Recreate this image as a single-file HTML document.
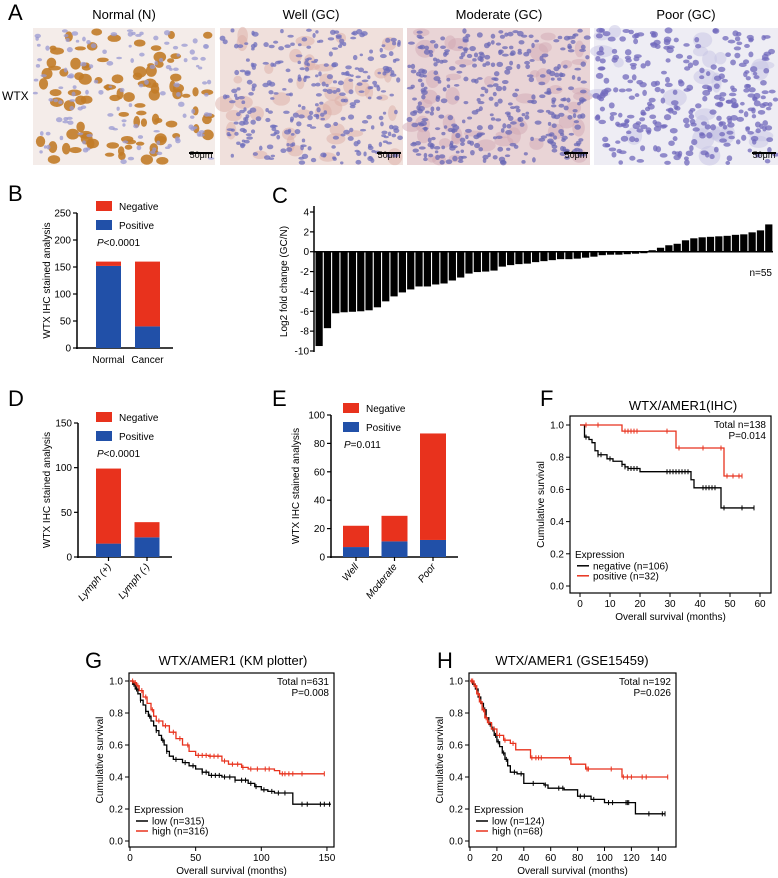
<!DOCTYPE html>
<html><head><meta charset="utf-8"><style>
html,body{margin:0;padding:0;background:#fff}
svg{display:block;font-family:"Liberation Sans",Arial,sans-serif}
</style></head><body>
<svg id="fig" width="778" height="878" viewBox="0 0 778 878" xmlns="http://www.w3.org/2000/svg">
<g id="panelA">
<text x="8" y="20" font-size="22">A</text>
<text x="124" y="19" font-size="13" text-anchor="middle">Normal (N)</text>
<text x="311" y="19" font-size="13" text-anchor="middle">Well (GC)</text>
<text x="499" y="19" font-size="13" text-anchor="middle">Moderate (GC)</text>
<text x="686" y="19" font-size="13" text-anchor="middle">Poor (GC)</text>
<text x="2" y="100" font-size="12">WTX</text>
</g>
<g id="gB"></g>
<g id="gC"></g>
<g id="gD"></g>
<g id="gE"></g>
<g id="gF"></g>
<g id="gG"></g>
<g id="gH"></g>
</svg>
<script>
// ---------- data ----------
const bCategories = ["Normal", "Cancer"];
const bPositive = [152, 40];
const bNegative = [8, 120];
const dCategories = ["Lymph (+)", "Lymph (-)"];
const dPositive = [15, 22];
const dNegative = [84, 17];
const eCategories = ["Well", "Moderate", "Poor"];
const ePositive = [7, 11, 12];
const eNegative = [15, 18, 75];
const cValues = [-9.5,-7.7,-6.2,-6.1,-6.05,-6.0,-5.9,-5.6,-5.0,-4.5,-4.1,-3.8,-3.5,-3.5,-3.3,-3.2,-2.9,-2.6,-2.2,-2.05,-2.0,-1.9,-1.5,-1.35,-1.25,-1.2,-1.05,-0.95,-0.85,-0.75,-0.75,-0.7,-0.6,-0.5,-0.35,-0.3,-0.3,-0.25,-0.2,-0.15,0.15,0.4,0.65,0.8,1.15,1.35,1.45,1.5,1.55,1.6,1.7,1.75,1.95,2.15,2.75];
const cTicks = [4,2,0,-2,-4,-6,-8,-10];
const fNegTimes = [0,1.5,3,4,5,6,9,11,14,15,16,20,37,38,47,58];
const fNegSurv  = [1,0.925,0.91,0.89,0.84,0.815,0.79,0.775,0.755,0.74,0.73,0.71,0.66,0.61,0.485,0.485];
const fNegCens  = [2,6,7,10,14,15,16,17,18,19,29,30,31,32,33,34,35,36,41,42,43,44,45,48,54,58];
const fPosTimes = [0,14,32,48,54];
const fPosSurv  = [1,0.962,0.857,0.683,0.683];
const fPosCens  = [2,6,15,16,17,18,19,29,33,41,47,49,51,53,54];
const gLowTimes = [0,2,4,6,8,10,12,14,16,18,20,22,24,26,28,30,33,40,45,50,55,60,70,80,90,95,100,105,110,124,153];
const gLowSurv  = [1,0.98,0.95,0.92,0.88,0.85,0.81,0.78,0.75,0.72,0.69,0.66,0.63,0.6,0.56,0.53,0.51,0.49,0.47,0.45,0.43,0.41,0.4,0.38,0.36,0.34,0.32,0.31,0.3,0.23,0.23];
const gLowCens  = [3,5,8,12,15,20,25,28,35,42,48,55,58,62,65,68,72,76,80,85,88,92,96,102,108,113,118,131,135,145,148,152];
const gHighTimes = [0,3,5,7,10,13,16,18,20,25,30,35,40,45,50,60,70,75,85,90,110,114,148];
const gHighSurv  = [1,0.99,0.97,0.94,0.9,0.86,0.82,0.78,0.75,0.72,0.68,0.64,0.6,0.56,0.535,0.53,0.5,0.48,0.46,0.45,0.44,0.42,0.42];
const gHighCens  = [2,4,6,9,12,17,22,27,33,38,44,52,55,58,61,64,67,72,78,82,86,92,97,103,106,116,118,121,124,131,148];
const hLowTimes = [0,2,4,6,8,10,12,14,16,18,20,22,24,26,28,30,35,40,55,58,70,80,90,100,123,145];
const hLowSurv  = [1,0.98,0.95,0.9,0.86,0.82,0.77,0.73,0.7,0.66,0.62,0.59,0.55,0.51,0.47,0.43,0.42,0.36,0.35,0.33,0.32,0.28,0.26,0.24,0.17,0.17];
const hLowCens  = [3,7,11,15,17,19,21,25,27,33,38,47,56,66,69,82,85,92,103,106,116,117,118,133,143,145];
const hHighTimes = [0,3,5,7,9,11,13,16,20,25,30,34,45,75,86,113,147];
const hHighSurv  = [1,0.97,0.92,0.87,0.82,0.77,0.74,0.7,0.66,0.63,0.61,0.57,0.52,0.48,0.45,0.4,0.4];
const hHighCens  = [1,2,4,6,8,10,12,14,18,22,26,32,46,49,51,53,74,87,88,105,114,117,120,128,131,147];

const NS = "http://www.w3.org/2000/svg";
function el(parent, tag, attrs, text){
  const e = document.createElementNS(NS, tag);
  for (const k in attrs) e.setAttribute(k, attrs[k]);
  if (text !== undefined) e.textContent = text;
  parent.appendChild(e);
  return e;
}
const RED = "#e8321d", BLUE = "#2150a8";

// ---------- panel A images (decorative texture) ----------
(function(){
  const A = document.getElementById("panelA");
  let seed = 12345;
  function rnd(){ seed = (seed*1103515245 + 12345) % 2147483648; return seed/2147483648; }
  const imgs = [
    {x:33,w:182,bg:"#f4ece9",blob:"#c27c28",nb:95,br:[3,4],op:0.9,nuc:"#9a9ad2",nn:130,nr:1.6,name:"image-normal"},
    {x:220,w:183,bg:"#f0e0dc",blob:"#dcaea6",nb:40,br:[4,6],op:0.5,nuc:"#6e6ebc",nn:300,nr:1.6,name:"image-well"},
    {x:407,w:183,bg:"#e9d4d6",blob:"#d2a8b4",nb:45,br:[4,6],op:0.5,nuc:"#6a68b6",nn:360,nr:1.7,name:"image-moderate"},
    {x:594,w:184,bg:"#eeedf4",blob:"#c6c4e4",nb:25,br:[5,7],op:0.5,nuc:"#7068bc",nn:300,nr:2.2,name:"image-poor"}
  ];
  imgs.forEach(im=>{
    const g = el(A,"g",{});
    
    
    el(g,"rect",{x:im.x,y:28,width:im.w,height:137,fill:im.bg});
    for(let i=0;i<im.nb;i++){
      el(g,"ellipse",{cx:im.x+3+rnd()*(im.w-6),cy:31+rnd()*131,rx:im.br[0]+rnd()*im.br[1],ry:im.br[0]-1+rnd()*im.br[1],fill:im.blob,opacity:im.op});
    }
    for(let i=0;i<im.nn;i++){
      el(g,"ellipse",{cx:im.x+2+rnd()*(im.w-4),cy:30+rnd()*133,rx:im.nr+rnd()*1.8,ry:im.nr*0.8+rnd()*1.4,fill:im.nuc,opacity:0.75});
    }
    el(g,"rect",{x:im.x+im.w-26,y:152,width:24,height:2,fill:"#000"});
    const t = el(g,"text",{x:im.x+im.w-14,y:158,"font-size":9,"text-anchor":"middle",fill:"#000"},"50μm");
    
    
  });
})();

// ---------- stacked bar panels ----------
function stacked(gid, cfg){
  const g = document.getElementById(gid);
  const y = v => cfg.y0 - (v/cfg.max)*(cfg.y0-cfg.yTop);
  const L = el(g,"text",{x:cfg.lx,y:cfg.ly,"font-size":22},cfg.letter);
  
  
  el(g,"line",{x1:cfg.ax,y1:cfg.yTop,x2:cfg.ax,y2:cfg.y0+1,stroke:"#000","stroke-width":1.5});
  el(g,"line",{x1:cfg.ax-1,y1:cfg.y0,x2:cfg.xEnd,y2:cfg.y0,stroke:"#000","stroke-width":1.5});
  cfg.ticks.forEach(t=>{
    el(g,"line",{x1:cfg.ax-4,y1:y(t),x2:cfg.ax,y2:y(t),stroke:"#000","stroke-width":1.2});
    const tt = el(g,"text",{x:cfg.ax-6,y:y(t)+3.5,"font-size":10,"text-anchor":"end"},t);
    
    
  });
  const yt = el(g,"text",{x:0,y:0,"font-size":10,"text-anchor":"middle",transform:`translate(${cfg.ytx},${(cfg.y0+cfg.yTop)/2}) rotate(-90)`},"WTX IHC stained analysis");
  
  
  cfg.cats.forEach((c,i)=>{
    const bx = cfg.bx0 + i*cfg.step;
    const p = cfg.pos[i], n = cfg.neg[i];
    const rp = el(g,"rect",{x:bx,y:y(p),width:cfg.bw,height:cfg.y0-y(p),fill:BLUE});
    
    
    const rn = el(g,"rect",{x:bx,y:y(p+n),width:cfg.bw,height:y(p)-y(p+n),fill:RED});
    
    
    const cx = bx + cfg.bw/2;
    if(cfg.rot){
      el(g,"line",{x1:cx,y1:cfg.y0,x2:cx,y2:cfg.y0+4,stroke:"#000","stroke-width":1.2});
      const xl = el(g,"text",{x:0,y:0,"font-size":10,"font-style":"italic","text-anchor":"end",transform:`translate(${cx+3},${cfg.y0+10}) rotate(-50)`},c);
      
      
    } else {
      const xl = el(g,"text",{x:cx,y:cfg.y0+15,"font-size":10,"text-anchor":"middle"},c);
      
      
    }
  });
  const lg = el(g,"g",{});
  
  
  el(lg,"rect",{x:cfg.bx0,y:cfg.legY,width:16,height:10,fill:RED});
  el(lg,"text",{x:cfg.bx0+23,y:cfg.legY+9,"font-size":10},"Negative");
  el(lg,"rect",{x:cfg.bx0,y:cfg.legY+19,width:16,height:10,fill:BLUE});
  el(lg,"text",{x:cfg.bx0+23,y:cfg.legY+28,"font-size":10},"Positive");
  const pt = el(g,"text",{x:cfg.bx0+1,y:cfg.legY+45,"font-size":10});
  
  
  el(pt,"tspan",{"font-style":"italic"},"P");
  el(pt,"tspan",{},cfg.ptext);
}
stacked("gB",{letter:"B",lx:8,ly:201,ax:77,yTop:213,y0:348,max:250,ticks:[0,50,100,150,200,250],xEnd:173,bx0:96,bw:25,step:39,cats:bCategories,pos:bPositive,neg:bNegative,legY:201,ptext:"<0.0001",ytx:50,rot:false});
stacked("gD",{letter:"D",lx:8,ly:406,ax:78,yTop:423,y0:557,max:150,ticks:[0,50,100,150],xEnd:172,bx0:96,bw:25,step:38.5,cats:dCategories,pos:dPositive,neg:dNegative,legY:412,ptext:"<0.0001",ytx:50,rot:true});
stacked("gE",{letter:"E",lx:272,ly:406,ax:331,yTop:415,y0:557,max:100,ticks:[0,20,40,60,80,100],xEnd:458,bx0:343,bw:26,step:38.5,cats:eCategories,pos:ePositive,neg:eNegative,legY:403,ptext:"=0.011",ytx:299,rot:true});

// ---------- panel C ----------
(function(){
  const g = document.getElementById("gC");
  const yTop=212, yBot=351, vmax=4, vmin=-10;
  const y = v => yTop + (vmax - v)/(vmax - vmin)*(yBot-yTop);
  const x0 = 315, x1 = 773;
  const bw = (x1-x0)/cValues.length;
  const L = el(g,"text",{x:272,y:203,"font-size":22},"C");
  
  
  cValues.forEach((v,i)=>{
    const r = el(g,"rect",{x:x0+i*bw+0.5,y:Math.min(y(v),y(0)),width:bw-1.1,height:Math.abs(y(v)-y(0)),fill:"#000"});
    
    
  });
  el(g,"line",{x1:314,y1:yTop-6,x2:314,y2:yBot+1,stroke:"#000","stroke-width":1.5});
  el(g,"line",{x1:314,y1:y(0),x2:x1,y2:y(0),stroke:"#000","stroke-width":1.5});
  cTicks.forEach(t=>{
    el(g,"line",{x1:310,y1:y(t),x2:314,y2:y(t),stroke:"#000","stroke-width":1.2});
    const tt = el(g,"text",{x:309,y:y(t)+3.5,"font-size":10,"text-anchor":"end"},t);
    
    
  });
  const yt = el(g,"text",{x:0,y:0,"font-size":10,"text-anchor":"middle",transform:`translate(287,${(yTop+yBot)/2}) rotate(-90)`},"Log2 fold change (GC/N)");
  
  
  const n = el(g,"text",{x:772,y:276,"font-size":10,"text-anchor":"end"},"n=55");
  
  
})();

// ---------- KM panels ----------
function km(gid, cfg){
  const g = document.getElementById(gid);
  const x = t => cfg.x0 + t*cfg.xs;
  const y = s => cfg.y0 - s*(cfg.y0-cfg.y1);
  const L = el(g,"text",{x:cfg.lx,y:cfg.ly,"font-size":22},cfg.letter);
  
  
  const T = el(g,"text",{x:cfg.tx,y:cfg.ty,"font-size":13,"text-anchor":"middle"},cfg.title);
  
  
  el(g,"rect",{x:cfg.bl,y:cfg.bt,width:cfg.br-cfg.bl,height:cfg.bb-cfg.bt,fill:"none",stroke:"#000","stroke-width":1.2});
  [0,0.2,0.4,0.6,0.8,1.0].forEach(s=>{
    el(g,"line",{x1:cfg.bl-4,y1:y(s),x2:cfg.bl,y2:y(s),stroke:"#000"});
    const tt = el(g,"text",{x:cfg.bl-6,y:y(s)+3.5,"font-size":10,"text-anchor":"end"},s.toFixed(1));
    
    
  });
  cfg.xticks.forEach(t=>{
    el(g,"line",{x1:x(t),y1:cfg.bb,x2:x(t),y2:cfg.bb+4,stroke:"#000"});
    const tt = el(g,"text",{x:x(t),y:cfg.bb+14,"font-size":10,"text-anchor":"middle"},t);
    
    
  });
  const xt = el(g,"text",{x:(cfg.bl+cfg.br)/2,y:cfg.bb+27,"font-size":10,"text-anchor":"middle"},"Overall survival (months)");
  
  
  const yt = el(g,"text",{x:0,y:0,"font-size":10,"text-anchor":"middle",transform:`translate(${cfg.bl-26},${(cfg.bt+cfg.bb)/2}) rotate(-90)`},"Cumulative survival");
  
  
  function stepSurv(times,surv,t){ let s=surv[0]; for(let i=0;i<times.length;i++){ if(times[i]<=t) s=surv[i]; } return s; }
  cfg.series.forEach(se=>{
    let d = `M${x(se.t[0])},${y(se.s[0])}`;
    for(let i=1;i<se.t.length;i++){ d += ` H${x(se.t[i])} V${y(se.s[i])}`; }
    const p = el(g,"path",{d:d,fill:"none",stroke:se.color,"stroke-width":1.3});
    
    
    se.c.forEach(t=>{
      const sv = stepSurv(se.t,se.s,t);
      const m = el(g,"line",{x1:x(t),y1:y(sv)-2.5,x2:x(t),y2:y(sv)+2.5,stroke:se.color,"stroke-width":1});
      
      
    });
  });
  const st = el(g,"text",{x:cfg.br-5,y:cfg.bt+12,"font-size":10,"text-anchor":"end"},cfg.total);
  
  
  const sp = el(g,"text",{x:cfg.br-5,y:cfg.bt+23,"font-size":10,"text-anchor":"end"},cfg.p);
  
  
  const lg = el(g,"g",{});
  
  
  const ly = y(0.2)+4;
  el(lg,"text",{x:cfg.bl+5,y:ly,"font-size":10},"Expression");
  cfg.series.forEach((se,i)=>{
    el(lg,"line",{x1:cfg.bl+7,y1:ly+8+i*10,x2:cfg.bl+19,y2:ly+8+i*10,stroke:se.color,"stroke-width":1.5});
    el(lg,"text",{x:cfg.bl+23,y:ly+11.5+i*10,"font-size":10},se.label);
  });
}
km("gF",{letter:"F",lx:540,ly:406,title:"WTX/AMER1(IHC)",tx:683,ty:410,bl:570,br:771,bt:416,bb:593,x0:580,xs:3,y0:586,y1:425,xticks:[0,10,20,30,40,50,60],total:"Total n=138",p:"P=0.014",
  series:[{t:fNegTimes,s:fNegSurv,c:fNegCens,color:"#000",name:"curve-negative",label:"negative (n=106)"},{t:fPosTimes,s:fPosSurv,c:fPosCens,color:RED,name:"curve-positive",label:"positive (n=32)"}]});
km("gG",{letter:"G",lx:85,ly:668,title:"WTX/AMER1 (KM plotter)",tx:233,ty:665,bl:129,br:334,bt:673,bb:847,x0:130,xs:1.313,y0:841,y1:681,xticks:[0,50,100,150],total:"Total n=631",p:"P=0.008",
  series:[{t:gLowTimes,s:gLowSurv,c:gLowCens,color:"#000",name:"curve-low",label:"low (n=315)"},{t:gHighTimes,s:gHighSurv,c:gHighCens,color:RED,name:"curve-high",label:"high (n=316)"}]});
km("gH",{letter:"H",lx:437,ly:668,title:"WTX/AMER1 (GSE15459)",tx:572,ty:665,bl:469,br:676,bt:673,bb:847,x0:470,xs:1.345,y0:841,y1:681,xticks:[0,20,40,60,80,100,120,140],total:"Total n=192",p:"P=0.026",
  series:[{t:hLowTimes,s:hLowSurv,c:hLowCens,color:"#000",name:"curve-low",label:"low (n=124)"},{t:hHighTimes,s:hHighSurv,c:hHighCens,color:RED,name:"curve-high",label:"high (n=68)"}]});
</script>
</body></html>
